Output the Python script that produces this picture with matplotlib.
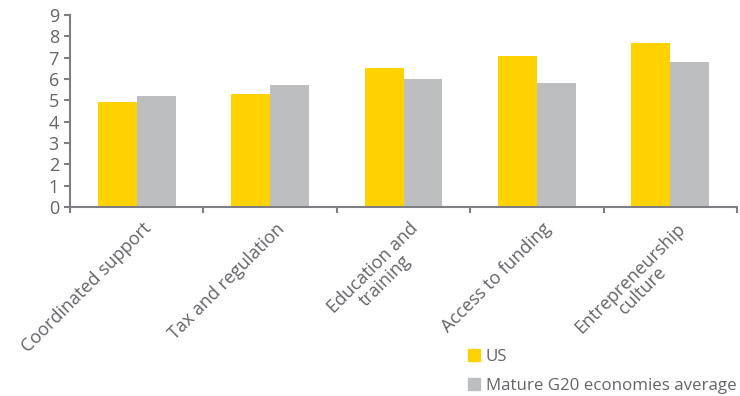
import numpy as np
import matplotlib
matplotlib.use("Agg")
import matplotlib.pyplot as plt
from matplotlib.lines import Line2D

categories = ["Coordinated support", "Tax and regulation", "Education and\ntraining",
              "Access to funding", "Entrepreneurship\nculture"]
us_values = [4.9, 5.3, 6.5, 7.1, 7.7]
g20_values = [5.2, 5.7, 6.0, 5.8, 6.8]
series_names = ["US", "Mature G20 economies average"]

YELLOW = "#FFD200"
GREY = "#BCBEC0"
TEXT = "#646469"
AXIS = "#7f7f83"

plt.rcParams["font.family"] = ["Open Sans", "DejaVu Sans"]

fig = plt.figure(figsize=(7.4, 3.96), dpi=100)
ax = fig.add_axes([70 / 740, 1 - 207 / 396, 667 / 740, 192 / 396])

x = np.arange(len(categories))
w = 0.292
ax.bar(x - w / 2, us_values, width=w, color=YELLOW, zorder=2)
ax.bar(x + w / 2, g20_values, width=w, color=GREY, zorder=2)

ax.set_xlim(-0.5, len(categories) - 0.5)
ax.set_ylim(0, 9)
ax.set_yticks(range(10))
ax.tick_params(axis="y", colors=AXIS, labelcolor=TEXT, labelsize=13, length=4, width=1.5, pad=4)

# category boundaries carry the ticks, labels sit at the centres
ax.set_xticks(np.arange(len(categories) + 1) - 0.5)
ax.set_xticklabels([])
ax.tick_params(axis="x", which="major", colors=AXIS, length=4, width=1.5, direction="out")
ax.set_xticks(x + 0.04, minor=True)
ax.set_xticklabels(categories, minor=True, rotation=45, ha="right", rotation_mode="anchor",
                   multialignment="center", linespacing=1.0, color=TEXT, fontsize=13)
ax.tick_params(axis="x", which="minor", length=0, pad=9)

for s in ["top", "right"]:
    ax.spines[s].set_visible(False)
for s in ["left", "bottom"]:
    ax.spines[s].set_color(AXIS)
    ax.spines[s].set_linewidth(1.5)

handles = [Line2D([], [], ls="none", marker="s", markersize=8, color=c) for c in (YELLOW, GREY)]
fig.legend(handles, series_names, loc="upper left", bbox_to_anchor=(462 / 740, 1 - 342 / 396),
           frameon=False, handlelength=0.6, handletextpad=0.4, labelspacing=0.8,
           fontsize=12.2, labelcolor=TEXT, borderaxespad=0)

fig.savefig("out.png", dpi=100)
